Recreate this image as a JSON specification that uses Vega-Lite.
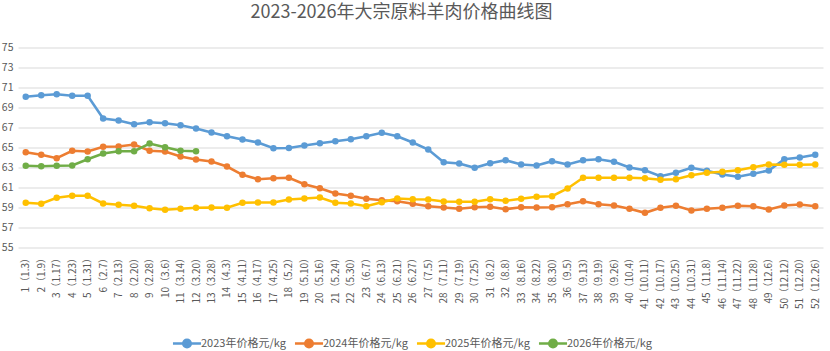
{
  "$schema": "https://vega.github.io/schema/vega-lite/v6.json",
  "width": 805,
  "height": 200,
  "autosize": "none",
  "padding": {"left": 18, "top": 47.5, "right": 7, "bottom": 103.5},
  "background": "white",
  "title": {
    "text": "2023-2026年大宗原料羊肉价格曲线图",
    "font": "Noto Sans CJK SC",
    "fontSize": 18,
    "fontWeight": "normal",
    "color": "#595959",
    "anchor": "middle",
    "frame": "group",
    "offset": 21,
    "dx": -19
  },
  "config": {
    "view": {"stroke": null},
    "font": "Noto Sans CJK SC"
  },
  "data": {
    "values": [
      {"w": "1（1.3）", "s": "2023年价格元/kg", "v": 70.07},
      {"w": "2（1.9）", "s": "2023年价格元/kg", "v": 70.23},
      {"w": "3（1.17）", "s": "2023年价格元/kg", "v": 70.33},
      {"w": "4（1.23）", "s": "2023年价格元/kg", "v": 70.17},
      {"w": "5（1.31）", "s": "2023年价格元/kg", "v": 70.17},
      {"w": "6（2.7）", "s": "2023年价格元/kg", "v": 67.9},
      {"w": "7（2.13）", "s": "2023年价格元/kg", "v": 67.7},
      {"w": "8（2.20）", "s": "2023年价格元/kg", "v": 67.33},
      {"w": "9（2.28）", "s": "2023年价格元/kg", "v": 67.53},
      {"w": "10（3.6）", "s": "2023年价格元/kg", "v": 67.43},
      {"w": "11（3.14）", "s": "2023年价格元/kg", "v": 67.23},
      {"w": "12（3.20）", "s": "2023年价格元/kg", "v": 66.9},
      {"w": "13（3.28）", "s": "2023年价格元/kg", "v": 66.5},
      {"w": "14（4.3）", "s": "2023年价格元/kg", "v": 66.13},
      {"w": "15（4.11）", "s": "2023年价格元/kg", "v": 65.8},
      {"w": "16（4.17）", "s": "2023年价格元/kg", "v": 65.5},
      {"w": "17（4.25）", "s": "2023年价格元/kg", "v": 64.93},
      {"w": "18（5.2）", "s": "2023年价格元/kg", "v": 64.95},
      {"w": "19（5.10）", "s": "2023年价格元/kg", "v": 65.2},
      {"w": "20（5.16）", "s": "2023年价格元/kg", "v": 65.43},
      {"w": "21（5.24）", "s": "2023年价格元/kg", "v": 65.63},
      {"w": "22（5.30）", "s": "2023年价格元/kg", "v": 65.83},
      {"w": "23（6.7）", "s": "2023年价格元/kg", "v": 66.13},
      {"w": "24（6.13）", "s": "2023年价格元/kg", "v": 66.47},
      {"w": "25（6.21）", "s": "2023年价格元/kg", "v": 66.13},
      {"w": "26（6.27）", "s": "2023年价格元/kg", "v": 65.5},
      {"w": "27（7.5）", "s": "2023年价格元/kg", "v": 64.8},
      {"w": "28（7.11）", "s": "2023年价格元/kg", "v": 63.53},
      {"w": "29（7.19）", "s": "2023年价格元/kg", "v": 63.4},
      {"w": "30（7.25）", "s": "2023年价格元/kg", "v": 62.97},
      {"w": "31（8.2）", "s": "2023年价格元/kg", "v": 63.43},
      {"w": "32（8.8）", "s": "2023年价格元/kg", "v": 63.73},
      {"w": "33（8.16）", "s": "2023年价格元/kg", "v": 63.3},
      {"w": "34（8.22）", "s": "2023年价格元/kg", "v": 63.2},
      {"w": "35（8.30）", "s": "2023年价格元/kg", "v": 63.63},
      {"w": "36（9.5）", "s": "2023年价格元/kg", "v": 63.3},
      {"w": "37（9.13）", "s": "2023年价格元/kg", "v": 63.73},
      {"w": "38（9.19）", "s": "2023年价格元/kg", "v": 63.83},
      {"w": "39（9.26）", "s": "2023年价格元/kg", "v": 63.57},
      {"w": "40（10.4）", "s": "2023年价格元/kg", "v": 63.0},
      {"w": "41（10.11）", "s": "2023年价格元/kg", "v": 62.73},
      {"w": "42（10.17）", "s": "2023年价格元/kg", "v": 62.13},
      {"w": "43（10.25）", "s": "2023年价格元/kg", "v": 62.47},
      {"w": "44（10.31）", "s": "2023年价格元/kg", "v": 62.97},
      {"w": "45（11.8）", "s": "2023年价格元/kg", "v": 62.67},
      {"w": "46（11.14）", "s": "2023年价格元/kg", "v": 62.3},
      {"w": "47（11.22）", "s": "2023年价格元/kg", "v": 62.07},
      {"w": "48（11.28）", "s": "2023年价格元/kg", "v": 62.37},
      {"w": "49（12.6）", "s": "2023年价格元/kg", "v": 62.7},
      {"w": "50（12.12）", "s": "2023年价格元/kg", "v": 63.83},
      {"w": "51（12.20）", "s": "2023年价格元/kg", "v": 64.0},
      {"w": "52（12.26）", "s": "2023年价格元/kg", "v": 64.27},

      {"w": "1（1.3）", "s": "2024年价格元/kg", "v": 64.53},
      {"w": "2（1.9）", "s": "2024年价格元/kg", "v": 64.27},
      {"w": "3（1.17）", "s": "2024年价格元/kg", "v": 63.93},
      {"w": "4（1.23）", "s": "2024年价格元/kg", "v": 64.67},
      {"w": "5（1.31）", "s": "2024年价格元/kg", "v": 64.6},
      {"w": "6（2.7）", "s": "2024年价格元/kg", "v": 65.07},
      {"w": "7（2.13）", "s": "2024年价格元/kg", "v": 65.1},
      {"w": "8（2.20）", "s": "2024年价格元/kg", "v": 65.3},
      {"w": "9（2.28）", "s": "2024年价格元/kg", "v": 64.67},
      {"w": "10（3.6）", "s": "2024年价格元/kg", "v": 64.6},
      {"w": "11（3.14）", "s": "2024年价格元/kg", "v": 64.1},
      {"w": "12（3.20）", "s": "2024年价格元/kg", "v": 63.8},
      {"w": "13（3.28）", "s": "2024年价格元/kg", "v": 63.6},
      {"w": "14（4.3）", "s": "2024年价格元/kg", "v": 63.1},
      {"w": "15（4.11）", "s": "2024年价格元/kg", "v": 62.27},
      {"w": "16（4.17）", "s": "2024年价格元/kg", "v": 61.83},
      {"w": "17（4.25）", "s": "2024年价格元/kg", "v": 61.93},
      {"w": "18（5.2）", "s": "2024年价格元/kg", "v": 61.97},
      {"w": "19（5.10）", "s": "2024年价格元/kg", "v": 61.33},
      {"w": "20（5.16）", "s": "2024年价格元/kg", "v": 60.93},
      {"w": "21（5.24）", "s": "2024年价格元/kg", "v": 60.4},
      {"w": "22（5.30）", "s": "2024年价格元/kg", "v": 60.17},
      {"w": "23（6.7）", "s": "2024年价格元/kg", "v": 59.87},
      {"w": "24（6.13）", "s": "2024年价格元/kg", "v": 59.73},
      {"w": "25（6.21）", "s": "2024年价格元/kg", "v": 59.63},
      {"w": "26（6.27）", "s": "2024年价格元/kg", "v": 59.37},
      {"w": "27（7.5）", "s": "2024年价格元/kg", "v": 59.13},
      {"w": "28（7.11）", "s": "2024年价格元/kg", "v": 59.0},
      {"w": "29（7.19）", "s": "2024年价格元/kg", "v": 58.87},
      {"w": "30（7.25）", "s": "2024年价格元/kg", "v": 59.03},
      {"w": "31（8.2）", "s": "2024年价格元/kg", "v": 59.07},
      {"w": "32（8.8）", "s": "2024年价格元/kg", "v": 58.83},
      {"w": "33（8.16）", "s": "2024年价格元/kg", "v": 59.03},
      {"w": "34（8.22）", "s": "2024年价格元/kg", "v": 59.0},
      {"w": "35（8.30）", "s": "2024年价格元/kg", "v": 59.03},
      {"w": "36（9.5）", "s": "2024年价格元/kg", "v": 59.33},
      {"w": "37（9.13）", "s": "2024年价格元/kg", "v": 59.63},
      {"w": "38（9.19）", "s": "2024年价格元/kg", "v": 59.33},
      {"w": "39（9.26）", "s": "2024年价格元/kg", "v": 59.2},
      {"w": "40（10.4）", "s": "2024年价格元/kg", "v": 58.87},
      {"w": "41（10.11）", "s": "2024年价格元/kg", "v": 58.47},
      {"w": "42（10.17）", "s": "2024年价格元/kg", "v": 58.97},
      {"w": "43（10.25）", "s": "2024年价格元/kg", "v": 59.17},
      {"w": "44（10.31）", "s": "2024年价格元/kg", "v": 58.7},
      {"w": "45（11.8）", "s": "2024年价格元/kg", "v": 58.87},
      {"w": "46（11.14）", "s": "2024年价格元/kg", "v": 58.97},
      {"w": "47（11.22）", "s": "2024年价格元/kg", "v": 59.17},
      {"w": "48（11.28）", "s": "2024年价格元/kg", "v": 59.13},
      {"w": "49（12.6）", "s": "2024年价格元/kg", "v": 58.8},
      {"w": "50（12.12）", "s": "2024年价格元/kg", "v": 59.2},
      {"w": "51（12.20）", "s": "2024年价格元/kg", "v": 59.3},
      {"w": "52（12.26）", "s": "2024年价格元/kg", "v": 59.13},

      {"w": "1（1.3）", "s": "2025年价格元/kg", "v": 59.47},
      {"w": "2（1.9）", "s": "2025年价格元/kg", "v": 59.37},
      {"w": "3（1.17）", "s": "2025年价格元/kg", "v": 59.97},
      {"w": "4（1.23）", "s": "2025年价格元/kg", "v": 60.17},
      {"w": "5（1.31）", "s": "2025年价格元/kg", "v": 60.17},
      {"w": "6（2.7）", "s": "2025年价格元/kg", "v": 59.4},
      {"w": "7（2.13）", "s": "2025年价格元/kg", "v": 59.27},
      {"w": "8（2.20）", "s": "2025年价格元/kg", "v": 59.17},
      {"w": "9（2.28）", "s": "2025年价格元/kg", "v": 58.93},
      {"w": "10（3.6）", "s": "2025年价格元/kg", "v": 58.77},
      {"w": "11（3.14）", "s": "2025年价格元/kg", "v": 58.87},
      {"w": "12（3.20）", "s": "2025年价格元/kg", "v": 58.97},
      {"w": "13（3.28）", "s": "2025年价格元/kg", "v": 59.0},
      {"w": "14（4.3）", "s": "2025年价格元/kg", "v": 58.97},
      {"w": "15（4.11）", "s": "2025年价格元/kg", "v": 59.47},
      {"w": "16（4.17）", "s": "2025年价格元/kg", "v": 59.5},
      {"w": "17（4.25）", "s": "2025年价格元/kg", "v": 59.5},
      {"w": "18（5.2）", "s": "2025年价格元/kg", "v": 59.8},
      {"w": "19（5.10）", "s": "2025年价格元/kg", "v": 59.9},
      {"w": "20（5.16）", "s": "2025年价格元/kg", "v": 60.0},
      {"w": "21（5.24）", "s": "2025年价格元/kg", "v": 59.47},
      {"w": "22（5.30）", "s": "2025年价格元/kg", "v": 59.4},
      {"w": "23（6.7）", "s": "2025年价格元/kg", "v": 59.13},
      {"w": "24（6.13）", "s": "2025年价格元/kg", "v": 59.53},
      {"w": "25（6.21）", "s": "2025年价格元/kg", "v": 59.9},
      {"w": "26（6.27）", "s": "2025年价格元/kg", "v": 59.83},
      {"w": "27（7.5）", "s": "2025年价格元/kg", "v": 59.8},
      {"w": "28（7.11）", "s": "2025年价格元/kg", "v": 59.6},
      {"w": "29（7.19）", "s": "2025年价格元/kg", "v": 59.57},
      {"w": "30（7.25）", "s": "2025年价格元/kg", "v": 59.57},
      {"w": "31（8.2）", "s": "2025年价格元/kg", "v": 59.83},
      {"w": "32（8.8）", "s": "2025年价格元/kg", "v": 59.67},
      {"w": "33（8.16）", "s": "2025年价格元/kg", "v": 59.87},
      {"w": "34（8.22）", "s": "2025年价格元/kg", "v": 60.07},
      {"w": "35（8.30）", "s": "2025年价格元/kg", "v": 60.13},
      {"w": "36（9.5）", "s": "2025年价格元/kg", "v": 60.9},
      {"w": "37（9.13）", "s": "2025年价格元/kg", "v": 61.97},
      {"w": "38（9.19）", "s": "2025年价格元/kg", "v": 61.97},
      {"w": "39（9.26）", "s": "2025年价格元/kg", "v": 61.97},
      {"w": "40（10.4）", "s": "2025年价格元/kg", "v": 61.97},
      {"w": "41（10.11）", "s": "2025年价格元/kg", "v": 61.93},
      {"w": "42（10.17）", "s": "2025年价格元/kg", "v": 61.77},
      {"w": "43（10.25）", "s": "2025年价格元/kg", "v": 61.83},
      {"w": "44（10.31）", "s": "2025年价格元/kg", "v": 62.23},
      {"w": "45（11.8）", "s": "2025年价格元/kg", "v": 62.47},
      {"w": "46（11.14）", "s": "2025年价格元/kg", "v": 62.57},
      {"w": "47（11.22）", "s": "2025年价格元/kg", "v": 62.73},
      {"w": "48（11.28）", "s": "2025年价格元/kg", "v": 63.03},
      {"w": "49（12.6）", "s": "2025年价格元/kg", "v": 63.3},
      {"w": "50（12.12）", "s": "2025年价格元/kg", "v": 63.27},
      {"w": "51（12.20）", "s": "2025年价格元/kg", "v": 63.27},
      {"w": "52（12.26）", "s": "2025年价格元/kg", "v": 63.3},

      {"w": "1（1.3）", "s": "2026年价格元/kg", "v": 63.17},
      {"w": "2（1.9）", "s": "2026年价格元/kg", "v": 63.13},
      {"w": "3（1.17）", "s": "2026年价格元/kg", "v": 63.17},
      {"w": "4（1.23）", "s": "2026年价格元/kg", "v": 63.2},
      {"w": "5（1.31）", "s": "2026年价格元/kg", "v": 63.83},
      {"w": "6（2.7）", "s": "2026年价格元/kg", "v": 64.4},
      {"w": "7（2.13）", "s": "2026年价格元/kg", "v": 64.63},
      {"w": "8（2.20）", "s": "2026年价格元/kg", "v": 64.63},
      {"w": "9（2.28）", "s": "2026年价格元/kg", "v": 65.4},
      {"w": "10（3.6）", "s": "2026年价格元/kg", "v": 65.03},
      {"w": "11（3.14）", "s": "2026年价格元/kg", "v": 64.67},
      {"w": "12（3.20）", "s": "2026年价格元/kg", "v": 64.63}
    ]
  },
  "mark": {
    "type": "line",
    "strokeWidth": 2.6,
    "point": {"size": 42, "filled": true, "opacity": 1}
  },
  "encoding": {
    "x": {
      "field": "w",
      "type": "ordinal",
      "sort": null,
      "scale": {"paddingInner": 0, "paddingOuter": 0.5},
      "axis": {
        "title": null,
        "labelAngle": -90,
        "labelFontSize": 10,
        "labelColor": "#595959",
        "labelFont": "Noto Sans CJK SC",
        "ticks": false,
        "domain": false,
        "labelPadding": 5,
        "grid": false
      }
    },
    "y": {
      "field": "v",
      "type": "quantitative",
      "scale": {"domain": [55, 75], "nice": false, "zero": false},
      "axis": {
        "title": null,
        "values": [55, 57, 59, 61, 63, 65, 67, 69, 71, 73, 75],
        "labelFontSize": 10.5,
        "labelColor": "#595959",
        "ticks": false,
        "domain": false,
        "labelPadding": 5,
        "gridColor": "#D9D9D9",
        "gridWidth": 1
      }
    },
    "color": {
      "field": "s",
      "type": "nominal",
      "scale": {
        "domain": ["2023年价格元/kg", "2024年价格元/kg", "2025年价格元/kg", "2026年价格元/kg"],
        "range": ["#5B9BD5", "#ED7D31", "#FFC000", "#70AD47"]
      },
      "legend": {
        "title": null,
        "orient": "none",
        "legendX": 158,
        "legendY": 285,
        "direction": "horizontal",
        "columns": 4,
        "columnPadding": 3,
        "labelFontSize": 11,
        "labelColor": "#595959",
        "labelOffset": 3,
        "symbolType": "M-1.5,0H1.5M-0.4,0A0.4,0.4,0,1,1,0.4,0A0.4,0.4,0,1,1,-0.4,0",
        "symbolSize": 350,
        "symbolStrokeWidth": 2.6,
        "symbolOpacity": 1
      }
    }
  }
}
